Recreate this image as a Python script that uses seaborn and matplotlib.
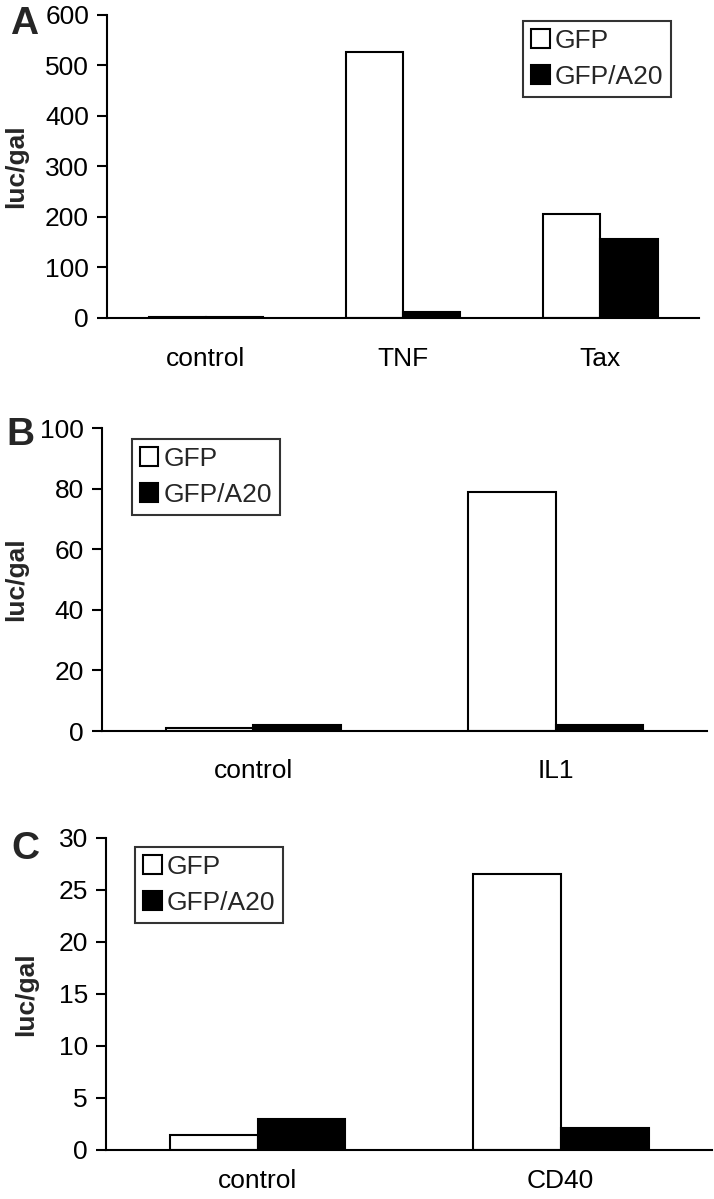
import matplotlib
matplotlib.use('Agg')
import matplotlib.pyplot as plt
import seaborn as sns
import pandas as pd

# panel A
cats_a = ['control', 'TNF', 'Tax']
gfp_a = [1.5, 527, 206]
a20_a = [2.5, 12, 156]
# panel B
cats_b = ['control', 'IL1']
gfp_b = [1.1, 79]
a20_b = [1.9, 2.0]
# panel C
cats_c = ['control', 'CD40']
gfp_c = [1.4, 26.5]
a20_c = [2.95, 2.1]

series = ['GFP', 'GFP/A20']
yticks_a = [0, 100, 200, 300, 400, 500, 600]
yticks_b = [0, 20, 40, 60, 80, 100]
yticks_c = [0, 5, 10, 15, 20, 25, 30]

sns.set_style('ticks')
plt.rcParams['font.family'] = ['Liberation Sans', 'DejaVu Sans']

FS = 19


def make_df(cats, gfp, a20):
    rows = []
    for c, g, a in zip(cats, gfp, a20):
        rows.append({'cat': c, 'group': series[0], 'val': g})
        rows.append({'cat': c, 'group': series[1], 'val': a})
    return pd.DataFrame(rows)


def draw_panel(ax, cats, gfp, a20, yticks, leg_xy, ylab_x, xpad):
    df = make_df(cats, gfp, a20)
    sns.barplot(data=df, x='cat', y='val', hue='group', hue_order=series,
                palette=['white', 'black'], edgecolor='black', linewidth=1.5,
                width=0.58, ax=ax, legend=True)
    ax.set_ylim(yticks[0], yticks[-1])
    ax.set_yticks(yticks)
    ax.set_xlabel('')
    ax.set_ylabel('luc/gal', fontsize=FS, fontweight='bold')
    ax.yaxis.set_label_coords(ylab_x, 0.5)
    sns.despine(ax=ax)
    for s in ['left', 'bottom']:
        ax.spines[s].set_linewidth(1.5)
        ax.spines[s].set_color('black')
    ax.tick_params(axis='y', direction='out', length=7, width=1.5, pad=6,
                   labelsize=FS, colors='black')
    ax.tick_params(axis='x', length=0, pad=xpad, labelsize=FS, colors='black')
    leg = ax.legend(loc='upper left', bbox_to_anchor=leg_xy, fontsize=FS,
                    frameon=True, fancybox=False, handlelength=0.7,
                    handleheight=0.7, handletextpad=0.2, labelspacing=0.45,
                    borderpad=0.3, borderaxespad=0)
    leg.get_frame().set_edgecolor('black')
    leg.get_frame().set_linewidth(1.5)


fig = plt.figure(figsize=(7.14, 11.99), dpi=100)
ax_a = fig.add_axes([0.150, 0.7348, 0.829, 0.2527])
ax_b = fig.add_axes([0.1429, 0.3903, 0.847, 0.2527])
ax_c = fig.add_axes([0.1485, 0.0409, 0.849, 0.2602])

draw_panel(ax_a, cats_a, gfp_a, a20_a, yticks_a, (0.703, 0.98), -0.133, 21)
draw_panel(ax_b, cats_b, gfp_b, a20_b, yticks_b, (0.0496, 0.964), -0.122, 20)
draw_panel(ax_c, cats_c, gfp_c, a20_c, yticks_c, (0.048, 0.971), -0.112, 14)

for lab, x, y in [('A', 0.034, 0.980), ('B', 0.028, 0.637), ('C', 0.035, 0.292)]:
    fig.text(x, y, lab, fontsize=28, fontweight='bold', ha='center', va='center')

fig.savefig('out.png', dpi=100)
plt.close(fig)
